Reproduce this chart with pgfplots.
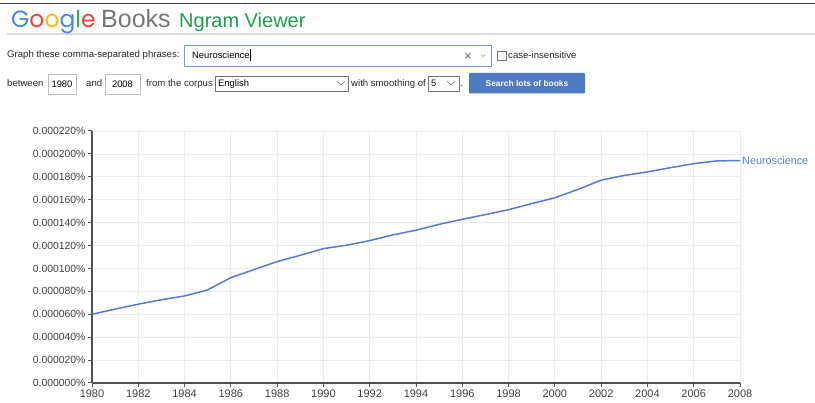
\documentclass[border=0pt]{standalone}
\usepackage{pgfplots}
\pgfplotsset{compat=1.18}
\usepackage{fontspec}
\setmainfont{Liberation Sans}
\newfontfamily\logofont{Poppins}
\definecolor{ngblue}{RGB}{88,122,206}
\definecolor{gblue}{RGB}{66,133,244}
\definecolor{gred}{RGB}{234,67,53}
\definecolor{gyellow}{RGB}{251,188,5}
\definecolor{ggreen}{RGB}{52,168,83}
\definecolor{ngreen}{RGB}{30,160,70}
\definecolor{booksgray}{RGB}{118,118,118}
\definecolor{uitext}{RGB}{40,40,40}
\definecolor{boxgray}{RGB}{190,190,190}
\definecolor{btnblue}{RGB}{78,122,196}
\definecolor{axisgray}{RGB}{80,80,80}
\definecolor{gridgray}{RGB}{236,236,236}
\begin{document}
\begin{tikzpicture}
\useasboundingbox (0pt,0pt) rectangle (815pt,-403pt);
\begin{scope}[x=1pt,y=-1pt]
% top rule and separator
\draw[line width=1.5pt, black!75] (0,3.5) -- (815,3.5);
\draw[line width=1.2pt, black!15] (7,34) -- (815,34);
% title
\node[anchor=base west, inner sep=0pt, font=\logofont\fontsize{23.5}{28}\selectfont] at (11,27.5)
  {\textcolor{gblue}{G}\textcolor{gred}{o}\textcolor{gyellow}{o}\textcolor{gblue}{g}\textcolor{ggreen}{l}\textcolor{gred}{e}};
\node[anchor=base west, inner sep=0pt, font=\fontsize{25}{28}\selectfont, text=booksgray] at (101,27.5) {Books};
\node[anchor=base west, inner sep=0pt, font=\fontsize{20}{24}\selectfont, text=ngreen] at (179,27.5) {Ngram Viewer};
% row 1
\node[anchor=base west, inner sep=0pt, font=\fontsize{9.6}{11}\selectfont, text=uitext] at (7,57.5) {Graph these comma-separated phrases:};
\draw[draw=ngblue!80, line width=0.9pt] (184.5,45) rectangle (491.5,66);
\node[anchor=base west, inner sep=0pt, font=\fontsize{9.4}{11}\selectfont, text=black] at (192,58.5) {Neuroscience};
\draw[line width=0.8pt] (250.5,49.5) -- (250.5,61);
\node[anchor=base, inner sep=0pt, font=\fontsize{13}{14}\selectfont, text=black!60] at (468,60.5) {×};
\draw[black!40, line width=0.5pt] (481,54.5) -- (483,56.5) -- (485,54.5);
\draw[black!55, line width=0.6pt] (497,51) rectangle (506,60);
\node[anchor=base west, inner sep=0pt, font=\fontsize{9.6}{11}\selectfont, text=uitext] at (508,58.5) {case-insensitive};
% row 2
\node[anchor=base west, inner sep=0pt, font=\fontsize{9.6}{11}\selectfont, text=uitext] at (7,87) {between};
\draw[draw=boxgray, line width=0.7pt] (48,74) rectangle (76,94);
\node[anchor=base, inner sep=0pt, font=\fontsize{9.4}{11}\selectfont, text=black] at (62,87.5) {1980};
\node[anchor=base west, inner sep=0pt, font=\fontsize{9.6}{11}\selectfont, text=uitext] at (86,87) {and};
\draw[draw=boxgray, line width=0.7pt] (105,74) rectangle (140,94);
\node[anchor=base, inner sep=0pt, font=\fontsize{9.4}{11}\selectfont, text=black] at (122.5,87.5) {2008};
\node[anchor=base west, inner sep=0pt, font=\fontsize{9.6}{11}\selectfont, text=uitext] at (146,87) {from the corpus};
\draw[draw=black!55, line width=0.7pt] (215,76) rectangle (348,91);
\node[anchor=base west, inner sep=0pt, font=\fontsize{9.4}{11}\selectfont, text=black] at (218,87) {English};
\draw[black!50, line width=0.6pt] (337,81) -- (341,85) -- (345,81);
\node[anchor=base west, inner sep=0pt, font=\fontsize{9.6}{11}\selectfont, text=uitext] at (351,87) {with smoothing of};
\draw[draw=black!55, line width=0.7pt] (428,76) rectangle (459,91);
\node[anchor=base west, inner sep=0pt, font=\fontsize{9.4}{11}\selectfont, text=black] at (431,87) {5};
\draw[black!50, line width=0.6pt] (447,81) -- (451,85) -- (455,81);
\node[anchor=base west, inner sep=0pt, font=\fontsize{9.6}{11}\selectfont, text=uitext] at (460,87) {.};
\fill[btnblue, rounded corners=1pt] (469,73) rectangle (585,93.5);
\node[anchor=base, inner sep=0pt, font=\bfseries\fontsize{8.4}{10}\selectfont, text=white] at (527,86.5) {Search lots of books};
\end{scope}
\pgfplotstableread{
year value
1980 0.0000600
1981 0.0000645
1982 0.0000688
1983 0.0000727
1984 0.0000760
1985 0.0000813
1986 0.0000920
1987 0.0000990
1988 0.0001060
1989 0.0001115
1990 0.0001173
1991 0.0001203
1992 0.0001243
1993 0.0001293
1994 0.0001334
1995 0.0001385
1996 0.0001429
1997 0.0001470
1998 0.0001513
1999 0.0001566
2000 0.0001617
2001 0.0001690
2002 0.0001771
2003 0.0001812
2004 0.0001843
2005 0.0001880
2006 0.0001915
2007 0.0001939
2008 0.0001942
}\ngramdata
\begin{axis}[
  at={(92pt,-383pt)}, anchor=south west,
  scale only axis, width=648pt, height=252pt,
  xmin=1980, xmax=2008, ymin=0, ymax=0.00022,
  xtick={1980,1982,1984,1986,1988,1990,1992,1994,1996,1998,2000,2002,2004,2006,2008},
  ytick={0,0.00002,0.00004,0.00006,0.00008,0.0001,0.00012,0.00014,0.00016,0.00018,0.0002,0.00022},
  scaled y ticks=false,
  scaled x ticks=false,
  yticklabel={\pgfmathprintnumber[fixed,fixed zerofill,precision=6]{\tick}\%},
  xticklabel={\pgfmathprintnumber[int detect,1000 sep={}]{\tick}},
  /pgf/number format/assume math mode=true,
  axis x line*=bottom, axis y line*=left,
  axis line style={-, draw=axisgray, line width=1.3pt},
  every outer x axis line/.append style={-},
  every outer y axis line/.append style={-},
  tick align=outside, major tick length=4pt,
  tick style={draw=axisgray, line width=1pt},
  grid=major, major grid style={draw=gridgray, line width=0.8pt},
  ticklabel style={text=black!75},
  yticklabel style={font=\fontsize{10.4}{12}\selectfont, xshift=1pt},
  xticklabel style={font=\fontsize{11}{12}\selectfont, yshift=1pt},
  clip=false,
]
\addplot[color=ngblue, line width=1.5pt] table[x=year, y=value] {\ngramdata};
\node[anchor=west, inner sep=0pt, text=ngblue, font=\fontsize{10.8}{12}\selectfont] at (axis cs:2008,0.0001942) {\hspace{2pt}Neuroscience};
\end{axis}
\end{tikzpicture}
\end{document}
